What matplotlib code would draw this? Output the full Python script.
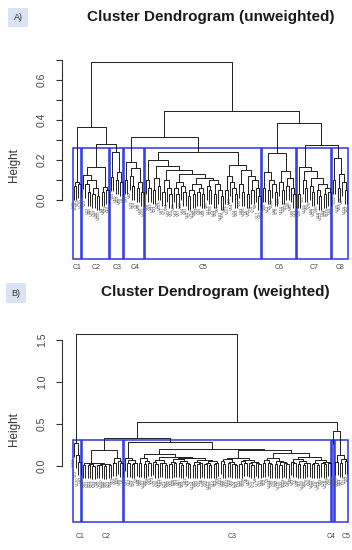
import matplotlib.pyplot as plt
from matplotlib.collections import LineCollection
from matplotlib.patches import Rectangle

plt.rcParams['font.family'] = ['Liberation Sans', 'DejaVu Sans']

# Trees written as (left,right)height, x = one leaf

# --- A) unweighted ---
a_c1 = "((x,x)0.07,(x,x)0.08)0.09"
a_c2 = ("((x,((x,(x,x)0.04)0.08,((x,x)0.03,(x,x)0.02)0.06)0.1)0.125,"
        "((x,x)0.04,(x,x)0.05)0.065)0.165")
a_c3 = "((x,x)0.115,((x,x)0.1,(x,x)0.09)0.14)0.24"
a_c4 = "((x,x)0.1,((x,(x,x)0.07)0.12,((x,x)0.06,(x,x)0.04)0.09)0.16)0.19"
a_c5_left = ("((x,(x,x)0.06)0.1,(((x,x)0.05,(x,x)0.07)0.11,"
             "(((x,x)0.04,(x,(x,x)0.03)0.06)0.1,"
             "(((x,(x,x)0.03)0.06,(x,(x,x)0.04)0.07)0.09,"
             "((((x,x)0.02,(x,x)0.03)0.05,((x,x)0.04,(x,x)0.03)0.06)0.08,"
             "((x,(x,x)0.05)0.07,((x,x)0.03,(x,(x,x)0.02)0.05)0.08)0.1)0.11)0.13)0.15)0.17)0.2")
a_c5_right = ("(((x,x)0.05,(x,(x,(x,x)0.03)0.06)0.09)0.12,"
              "((x,(x,x)0.04)0.08,((x,x)0.03,((x,x)0.05,(x,(x,x)0.02)0.06)0.1)0.12)0.15)0.175")
a_c5 = f"({a_c5_left},{a_c5_right})0.24"
a_c6 = ("(((x,x)0.06,((x,x)0.05,(x,(x,x)0.04)0.08)0.1)0.14,"
        "((x,(x,x)0.05)0.09,((x,x)0.07,(x,(x,x)0.03)0.06)0.11)0.145)0.235")
a_c7 = ("((x,x)0.03,((x,(x,x)0.06)0.1,((x,(x,x)0.04)0.07,"
        "((x,(x,x)0.02)0.05,((x,x)0.03,(x,x)0.04)0.06)0.08)0.11)0.145)0.165")
a_c8 = "((x,x)0.1,((x,x)0.06,(x,(x,x)0.05)0.09)0.13)0.21"
tree_a = (f"(({a_c1},({a_c2},{a_c3})0.28)0.365,"
          f"(({a_c4},{a_c5})0.315,({a_c6},({a_c7},{a_c8})0.275)0.385)0.445)0.69")
sizes_a = [4, 12, 6, 9, 50, 15, 15, 7]
names_a = ['C1', 'C2', 'C3', 'C4', 'C5', 'C6', 'C7', 'C8']
order_a = [82, 118, 13, 120,
           93, 23, 27, 85, 29, 39, 26, 100, 9, 84, 21, 66,
           59, 56, 50, 19, 58, 8,
           34, 97, 62, 79, 24, 2, 48, 80, 102,
           40, 68, 99, 73, 31, 36, 103, 87, 71, 94, 42, 55, 20, 61, 57, 38, 64,
           41, 15, 7, 114, 90, 43, 35, 6, 44, 60, 117, 108, 14, 51, 69, 101, 16,
           46, 107, 10, 54, 74, 83, 32, 91, 106, 5, 52, 76, 72, 4, 17, 47,
           37, 88, 12, 3, 104, 98, 75, 92, 110, 33, 119, 30, 95, 45, 63,
           1, 28, 11, 109, 65, 70, 86, 113, 96, 18, 112, 49, 78, 116, 89,
           25, 111, 105, 53, 67, 115, 22]

# --- B) weighted ---
b_c1 = "(x,(x,(x,x)0.05)0.13)0.27"
b_c2 = ("(((x,x)0.01,(((x,x)0.01,(x,x)0.005)0.02,(((x,x)0.01,x)0.015,"
        "((x,x)0.005,(x,x)0.01)0.02)0.025)0.03)0.04,((x,x)0.04,(x,(x,x)0.03)0.06)0.09)0.19")
b_c3a = "(x,((x,x)0.03,((x,x)0.02,x)0.04)0.07)0.1"
b_p1 = "((x,x)0.03,((x,x)0.02,(x,x)0.04)0.06)0.09"
b_p21 = "((x,(x,x)0.02)0.05,((x,x)0.03,(x,x)0.01)0.04)0.07"
b_p221 = "(((x,x)0.02,(x,x)0.03)0.05,((x,(x,x)0.01)0.03,(x,(x,x)0.02)0.04)0.06)0.08"
b_p222 = "(((x,x)0.01,((x,x)0.02,x)0.03)0.05,(((x,x)0.02,(x,x)0.01)0.03,((x,x)0.02,x)0.04)0.06)0.07"
b_q11 = "((x,(x,x)0.02)0.06,((x,x)0.03,(x,(x,x)0.01)0.02)0.05)0.08"
b_q12 = "(((x,x)0.02,(x,x)0.04)0.06,((x,(x,x)0.01)0.03,(x,(x,x)0.02)0.04)0.05)0.07"
b_q21 = "(((x,x)0.03,(x,(x,x)0.02)0.04)0.07,((x,x)0.02,((x,x)0.01,(x,(x,x)0.02)0.03)0.05)0.06)0.1"
b_q221 = "((x,(x,x)0.03)0.05,((x,x)0.02,((x,x)0.01,(x,x)0.03)0.04)0.06)0.08"
b_q222 = "(((x,x)0.02,(x,x)0.01)0.04,((x,(x,x)0.02)0.03,(x,x)0.04)0.05)0.07"
b_p = f"({b_p1},({b_p21},({b_p221},{b_p222})0.1)0.11)0.14"
b_q = f"(({b_q11},{b_q12})0.1,({b_q21},({b_q221},{b_q222})0.11)0.15)0.19"
b_c3 = f"({b_c3a},({b_p},{b_q})0.2)0.28"
b_c5 = "((x,x)0.05,((x,x)0.03,(x,x)0.06)0.08)0.13"
tree_b = f"({b_c1},(({b_c2},{b_c3})0.33,(x,{b_c5})0.42)0.52)1.57"
sizes_b = [4, 18, 89, 1, 6]
names_b = ['C1', 'C2', 'C3', 'C4', 'C5']
order_b = [118, 13, 120, 82,
           93, 85, 27, 23, 29, 39, 9, 26, 100, 84, 66, 21, 56, 59, 50, 19, 58, 8,
           34, 97, 62, 79, 24, 2, 48, 80, 102, 40, 68, 99, 73, 31, 36, 103, 87,
           71, 94, 42, 55, 20, 61, 57, 38, 64, 41, 15, 7, 114, 90, 43, 35, 6, 44,
           60, 117, 108, 14, 51, 69, 101, 16, 46, 107, 10, 54, 74, 83, 32, 91,
           106, 5, 52, 76, 72, 4, 17, 37, 88, 12, 3, 104, 98, 75, 92, 110, 33,
           119, 30, 95, 45, 63, 1, 28, 11, 109, 65, 70, 86, 113, 96, 18, 112, 49,
           78, 116, 89, 25,
           47,
           111, 105, 53, 67, 115, 22]

# label nudges (in leaf units) for the cluster names under the boxes
nudge_a = [0, 0, 0, 0.5, 0, 0, 0, 0]
nudge_b = [1.5, 1.3, 1.8, -0.8, 2.0]


def parse(s):
    pos = 0

    def node():
        nonlocal pos
        if s[pos] == 'x':
            pos += 1
            return None
        pos += 1
        left = node()
        pos += 1
        right = node()
        pos += 1
        j = pos
        while pos < len(s) and (s[pos].isdigit() or s[pos] == '.'):
            pos += 1
        return (float(s[j:pos]), left, right)
    return node()


def dendro(ax, text, order, sizes, names, nudge, box_bottom, name_y, ticks, ticklabels):
    tree = parse(text)
    heights = []
    segs = []
    leaves = []

    def walk(n, ph, hang):
        if n is None:
            i = len(leaves)
            leaves.append((i, ph - hang))
            return i, ph - hang
        h, l, r = n
        heights.append(h)
        xl, yl = walk(l, h, hang)
        xr, yr = walk(r, h, hang)
        segs.append([(xl, yl), (xl, h), (xr, h), (xr, yr)])
        return (xl + xr) / 2.0, h

    hang = 0.1 * tree[0]
    walk(tree, tree[0], hang)
    ax.add_collection(LineCollection(segs, colors='#1e1e1e', linewidths=0.7))
    for (i, y), v in zip(leaves, order):
        ax.text(i, y - hang * 0.08, 'V%d' % v, rotation=90, ha='center', va='top',
                fontsize=3.0, color='#555555')

    hs = sorted(heights, reverse=True)
    k = len(sizes)
    top = (hs[k - 2] + hs[k - 1]) / 2.0
    start = 0
    for n, name, dx in zip(sizes, names, nudge):
        x0 = start - 0.34
        x1 = start + n - 1 + 0.33
        ax.add_patch(Rectangle((x0, box_bottom), x1 - x0, top - box_bottom,
                               fill=False, ec='#2b35e6', lw=1.1))
        ax.text((x0 + x1) / 2 + dx, name_y, name, ha='center', va='center',
                fontsize=5, color='#444444')
        start += n

    ax.set_xlim(-73.5 / 2.338, (352 - 73.5) / 2.338)
    for sp in ['top', 'right', 'bottom']:
        ax.spines[sp].set_visible(False)
    ax.spines['left'].set_position(('data', (62 - 73.5) / 2.338))
    ax.spines['left'].set_bounds(ticks[0], ticks[-1])
    ax.spines['left'].set_linewidth(0.8)
    ax.spines['left'].set_color('#333333')
    ax.set_xticks([])
    ax.set_yticks(ticks)
    ax.set_yticklabels(ticklabels)
    ax.tick_params(axis='y', length=4.5, width=0.8, pad=6.5, labelsize=7.5,
                   labelcolor='#444444', color='#333333')
    plt.setp(ax.get_yticklabels(), rotation=90, va='center')
    ax.patch.set_visible(False)


fig = plt.figure(figsize=(3.52, 5.5), dpi=100)

# panel A: pixel y = 200 - 200*h
ax1 = fig.add_axes([0, 1 - 280 / 550, 1, 230 / 550])
ax1.set_ylim(-0.4, 0.75)
dendro(ax1, tree_a, order_a, sizes_a, names_a, nudge_a, -0.295, -0.34,
       [0, 0.1, 0.2, 0.3, 0.4, 0.5, 0.6, 0.7],
       ['0.0', '', '0.2', '', '0.4', '', '0.6', ''])
ax1.text((13.5 - 73.5) / 2.338, 0.175, 'Height', rotation=90, ha='center',
         va='center', fontsize=8.4, color='#333333')

# panel B: pixel y = 466 - 84*h
ax2 = fig.add_axes([0, 2 / 550, 1, 228 / 550])
ax2.set_ylim(-0.976, 1.738)
dendro(ax2, tree_b, order_b, sizes_b, names_b, nudge_b, -0.667, -0.845,
       [0, 0.5, 1.0, 1.5], ['0.0', '0.5', '1.0', '1.5'])
ax2.text((13.5 - 73.5) / 2.338, 0.44, 'Height', rotation=90, ha='center',
         va='center', fontsize=8.4, color='#333333')

fig.text(211 / 352, 1 - 17 / 550, 'Cluster Dendrogram (unweighted)', ha='center',
         va='center', fontsize=11, fontweight='bold', color='#1a1a1a')
fig.text(215 / 352, 1 - 292 / 550, 'Cluster Dendrogram (weighted)', ha='center',
         va='center', fontsize=11, fontweight='bold', color='#1a1a1a')
fig.text(18 / 352, 1 - 17.5 / 550, 'A)', ha='center', va='center', fontsize=6.5,
         color='#333333', bbox=dict(boxstyle='square,pad=0.6', fc='#dae3f3', ec='none'))
fig.text(16 / 352, 1 - 293 / 550, 'B)', ha='center', va='center', fontsize=6.5,
         color='#333333', bbox=dict(boxstyle='square,pad=0.6', fc='#dae3f3', ec='none'))

fig.savefig('out.png', dpi=100)
